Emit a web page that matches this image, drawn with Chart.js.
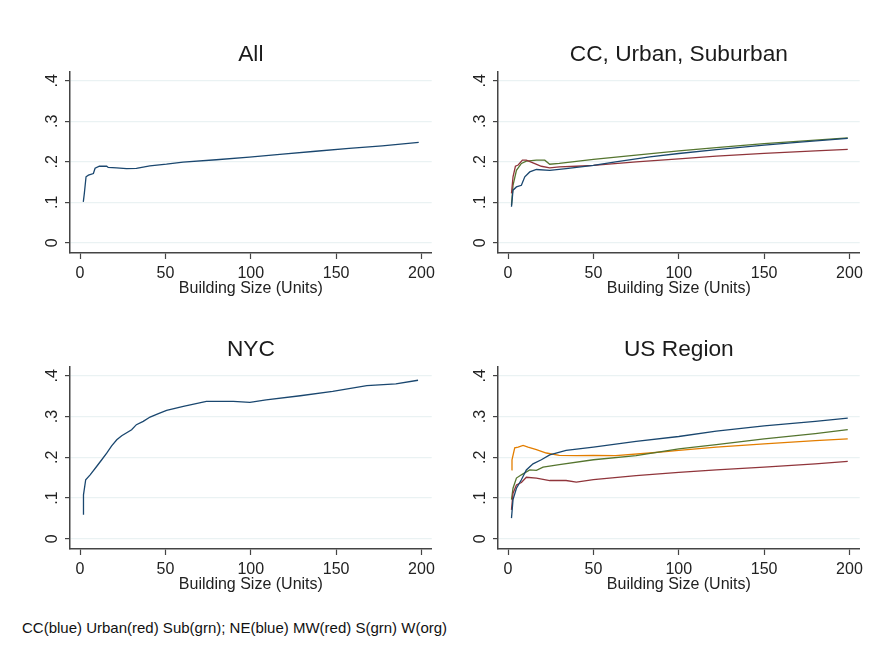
<!DOCTYPE html>
<html>
<head>
<meta charset="utf-8">
<script src="https://cdn.jsdelivr.net/npm/chart.js@4.4.1/dist/chart.umd.min.js"></script>
<style>
  body { margin: 0; background: #fff; width: 883px; height: 650px; position: relative; overflow: hidden; font-family: "Liberation Sans", Arial, sans-serif; }
  .panel { position: absolute; }
  #note { position: absolute; left: 22px; top: 619px; font-size: 15px; color: #111; white-space: nowrap; }
</style>
</head>
<body>
<div class="panel" style="left:10px;top:20px;width:430px;height:278px"><canvas id="c_all"></canvas></div>
<div class="panel" style="left:438px;top:20px;width:430px;height:278px"><canvas id="c_ccus"></canvas></div>
<div class="panel" style="left:10px;top:315px;width:430px;height:279px"><canvas id="c_nyc"></canvas></div>
<div class="panel" style="left:438px;top:315px;width:430px;height:279px"><canvas id="c_region"></canvas></div>
<div id="note">CC(blue) Urban(red) Sub(grn); NE(blue) MW(red) S(grn) W(org)</div>
<script>
// tick labels
const xTicks = [0, 50, 100, 150, 200];
const yTicks = [0, 0.1, 0.2, 0.3, 0.4];

// All
const allX = [1.9, 2.5, 3.5, 4.9, 7.8, 8.8, 11.3, 15.6, 16.5, 21.4, 27.2, 33, 40.9, 50.6, 60.3, 79.8, 99.2, 118.7, 138, 157.6, 177, 198.4];
const allY = [0.101, 0.122, 0.163, 0.167, 0.171, 0.184, 0.189, 0.189, 0.186, 0.185, 0.183, 0.184, 0.190, 0.194, 0.199, 0.205, 0.2115, 0.219, 0.226, 0.233, 0.2395, 0.2477];

// CC / Urban / Suburban
const ccX = [2, 2.9, 4.9, 7.8, 9.8, 12.7, 16.6, 24.4, 34, 50, 63, 83, 100, 122, 150, 171, 199];
const ccY = [0.089, 0.130, 0.138, 0.142, 0.163, 0.175, 0.181, 0.179, 0.183, 0.191, 0.200, 0.212, 0.2205, 0.230, 0.241, 0.2486, 0.2576];
const urbanX = [2, 2.9, 4.3, 5.9, 8.4, 10.7, 14.6, 19.5, 24.4, 30, 40, 50, 75, 100, 122, 150, 180, 199];
const urbanY = [0.122, 0.163, 0.189, 0.192, 0.204, 0.204, 0.1975, 0.189, 0.185, 0.1877, 0.189, 0.191, 0.200, 0.2074, 0.214, 0.2206, 0.227, 0.2305];
const subX = [2, 2.9, 4.9, 7.8, 10.7, 16.6, 21.5, 24.4, 30, 50, 75, 100, 122, 150, 180, 199];
const subY = [0.093, 0.142, 0.179, 0.196, 0.2016, 0.204, 0.204, 0.194, 0.196, 0.2058, 0.2165, 0.227, 0.235, 0.245, 0.2535, 0.259];

// NYC
const nycX = [2, 2, 3.3, 5.9, 9.8, 12.7, 15.6, 18.5, 21.5, 24.4, 30.2, 33, 37, 41, 45.9, 50.7, 60.5, 74, 89.8, 99.5, 109, 129, 148, 168, 185, 198];
const nycY = [0.059, 0.108, 0.145, 0.157, 0.178, 0.194, 0.210, 0.228, 0.243, 0.253, 0.2675, 0.280, 0.288, 0.2987, 0.307, 0.315, 0.325, 0.337, 0.337, 0.3347, 0.341, 0.351, 0.3617, 0.3756, 0.380, 0.389];

// US Region
const neX = [2, 2.9, 4.9, 7.8, 10.7, 14.6, 19.5, 24.4, 34, 50, 75, 100, 122, 150, 180, 199];
const neY = [0.0507, 0.096, 0.124, 0.145, 0.169, 0.184, 0.194, 0.206, 0.217, 0.225, 0.239, 0.251, 0.264, 0.277, 0.288, 0.296];
const mwX = [2, 2.9, 4.9, 7.8, 10.7, 16.6, 24.4, 34, 40, 50, 75, 100, 122, 150, 180, 199];
const mwY = [0.071, 0.112, 0.132, 0.138, 0.151, 0.149, 0.143, 0.143, 0.139, 0.145, 0.155, 0.163, 0.169, 0.176, 0.184, 0.190];
const sX = [2, 2.9, 4.9, 7.8, 12.7, 16.6, 20.5, 30, 50, 75, 100, 122, 150, 180, 199];
const sY = [0.096, 0.124, 0.149, 0.157, 0.169, 0.168, 0.176, 0.182, 0.194, 0.204, 0.2205, 0.231, 0.245, 0.258, 0.268];
const wX = [2, 2.3, 3.9, 5.9, 8.8, 11.7, 16.6, 22.4, 30, 40, 50, 63, 83, 100, 122, 150, 180, 199];
const wY = [0.169, 0.194, 0.223, 0.225, 0.229, 0.225, 0.219, 0.2105, 0.2046, 0.204, 0.2046, 0.204, 0.2105, 0.217, 0.225, 0.233, 0.241, 0.245];

const NAVY = "#1a476f", MAROON = "#90353b", GREEN = "#55752f", ORANGE = "#e37e00";
const FAMILY = '"Liberation Sans", Arial, sans-serif';

Chart.defaults.font.family = FAMILY;

// title centred over the plot region, not the whole canvas
const panelTitle = {
    id: "panelTitle",
    afterDraw(chart, args, opts) {
        const { ctx, chartArea } = chart;
        ctx.save();
        ctx.font = "22.7px " + FAMILY;
        ctx.fillStyle = "#1b1b1b";
        ctx.textAlign = "center";
        ctx.textBaseline = "middle";
        ctx.fillText(opts.text, (chartArea.left + chartArea.right) / 2, opts.y);
        ctx.restore();
    }
};

function pairs(xs, ys) {
    return xs.map((v, i) => ({ x: v, y: ys[i] }));
}

function makePanel(id, title, titleY, series) {
    const ctx = document.getElementById(id).getContext("2d");
    return new Chart(ctx, {
        type: "line",
        data: {
            datasets: series.map(s => ({
                data: pairs(s[0], s[1]),
                borderColor: s[2],
                borderWidth: 1.3,
                pointRadius: 0,
                tension: 0,
                fill: false
            }))
        },
        plugins: [panelTitle],
        options: {
            responsive: true, maintainAspectRatio: false, animation: false,
            layout: { padding: { top: 52, right: 7 } },
            plugins: {
                legend: { display: false },
                tooltip: { enabled: false },
                panelTitle: { text: title, y: titleY }
            },
            scales: {
                x: {
                    type: "linear", min: -5.9, max: 206,
                    afterBuildTicks: s => { s.ticks = xTicks.map(v => ({ value: v })); },
                    afterFit: s => { s.height = 45; },
                    grid: { drawOnChartArea: false, tickLength: 6, tickColor: "#444", tickWidth: 1.2 },
                    border: { color: "#444", width: 1.5 },
                    ticks: { color: "#222", font: { size: 16 }, padding: 5 },
                    title: { display: true, text: "Building Size (Units)", color: "#222", font: { size: 16 }, padding: { top: 3, bottom: 0 } }
                },
                y: {
                    type: "linear", min: -0.025, max: 0.4215,
                    afterBuildTicks: s => { s.ticks = yTicks.map(v => ({ value: v })); },
                    afterFit: s => { s.width = 60; },
                    grid: { color: "#eaf2f3", lineWidth: 1.2, tickLength: 5, tickColor: "#444", tickWidth: 1.2 },
                    border: { color: "#444", width: 1.5 },
                    ticks: {
                        color: "#222", font: { size: 16 }, padding: 6,
                        minRotation: 90, maxRotation: 90, crossAlign: "center",
                        callback: v => v === 0 ? "0" : String(v).replace("0.", ".")
                    }
                }
            }
        }
    });
}

makePanel("c_all", "All", 34.5, [[allX, allY, NAVY]]);
makePanel("c_ccus", "CC, Urban, Suburban", 34.5, [[ccX, ccY, NAVY], [urbanX, urbanY, MAROON], [subX, subY, GREEN]]);
makePanel("c_nyc", "NYC", 35, [[nycX, nycY, NAVY]]);
makePanel("c_region", "US Region", 35, [[neX, neY, NAVY], [mwX, mwY, MAROON], [sX, sY, GREEN], [wX, wY, ORANGE]]);
</script>
</body>
</html>
